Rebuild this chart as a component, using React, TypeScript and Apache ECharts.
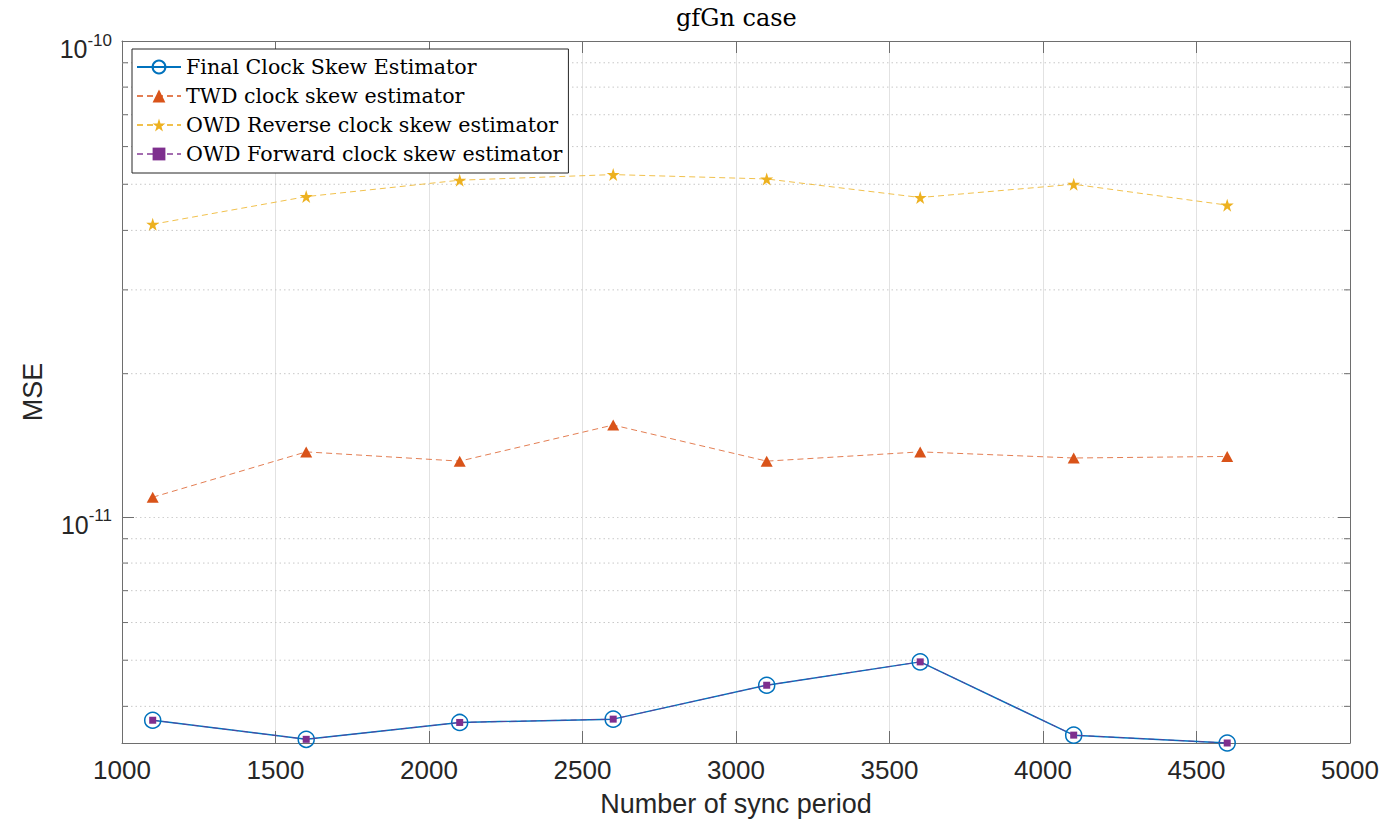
import React, { useEffect, useRef } from "react";
import * as echarts from "echarts";

// ---- data ----
const SYNC_PERIODS = [1100, 1600, 2100, 2600, 3100, 3600, 4100, 4600];
const FINAL_MSE = [3.74e-12, 3.41e-12, 3.7e-12, 3.76e-12, 4.43e-12, 4.96e-12, 3.48e-12, 3.35e-12];
const TWD_MSE = [1.1e-11, 1.37e-11, 1.31e-11, 1.56e-11, 1.31e-11, 1.37e-11, 1.33e-11, 1.34e-11];
const OWD_REV_MSE = [4.12e-11, 4.71e-11, 5.1e-11, 5.24e-11, 5.13e-11, 4.69e-11, 5.0e-11, 4.52e-11];
const OWD_FWD_MSE = [3.74e-12, 3.41e-12, 3.7e-12, 3.76e-12, 4.43e-12, 4.96e-12, 3.48e-12, 3.35e-12];

const SERIES_NAMES = [
  "Final Clock Skew Estimator",
  "TWD clock skew estimator",
  "OWD Reverse clock skew estimator",
  "OWD Forward clock skew estimator",
];
const TITLE = "gfGn case";

const X_MIN = 1000;
const X_MAX = 5000;
const X_STEP = 500;
const Y_MAX = 1e-10;
const MINOR_Y = [
  4e-12, 5e-12, 6e-12, 7e-12, 8e-12, 9e-12,
  2e-11, 3e-11, 4e-11, 5e-11, 6e-11, 7e-11, 8e-11, 9e-11,
];

const STAR =
  "path://M50,0 L61.8,35.3 L100,35.3 L69.1,57.1 L80.9,92.7 L50,70.9 L19.1,92.7 L30.9,57.1 L0,35.3 L38.2,35.3 Z";

const AXIS_COLOR = "#6e6e6e";
const TEXT_COLOR = "#262626";

function pairs(ys: number[]) {
  return SYNC_PERIODS.map((x, i) => [x, ys[i]]);
}

export default function App() {
  const ref = useRef<HTMLDivElement>(null);

  useEffect(() => {
    if (!ref.current) return;
    const chart = echarts.init(ref.current, null, { renderer: "svg" });
    const yMin = Math.min(...FINAL_MSE, ...OWD_FWD_MSE, ...TWD_MSE, ...OWD_REV_MSE);

    const yLabel = (v: number) => {
      const l = Math.log10(v);
      if (Math.abs(l - Math.round(l)) > 1e-6) return "";
      return `{b|10}{s|${Math.round(l)}}`;
    };

    const option: any = {
      animation: false,
      backgroundColor: "#ffffff",
      title: {
        text: TITLE,
        left: 676,
        top: 6,
        padding: 0,
        textStyle: {
          fontFamily: "DejaVu Serif",
          fontWeight: "normal",
          fontSize: 24,
          color: "#000",
        },
      },
      legend: {
        data: SERIES_NAMES,
        orient: "vertical",
        left: 132,
        top: 49,
        itemWidth: 44,
        itemHeight: 16,
        itemGap: 5,
        padding: [6, 6, 7, 4],
        backgroundColor: "#ffffff",
        borderColor: "#262626",
        borderWidth: 1,
        borderRadius: 0,
        textStyle: {
          fontFamily: "DejaVu Serif",
          fontSize: 20.6,
          lineHeight: 24,
          color: "#000",
        },
        z: 10,
      },
      grid: {
        left: 122,
        right: 34,
        top: 41,
        bottom: 84,
        containLabel: false,
        outerBoundsMode: "none",
      },
      xAxis: [
        {
          type: "value",
          min: X_MIN,
          max: X_MAX,
          interval: X_STEP,
          name: "Number of sync period",
          nameLocation: "middle",
          nameGap: 47,
          nameTextStyle: { fontFamily: "Liberation Sans", fontSize: 27, color: TEXT_COLOR },
          axisLine: { show: true, lineStyle: { color: AXIS_COLOR, width: 1 } },
          axisTick: { show: true, inside: true, length: 12, lineStyle: { color: AXIS_COLOR } },
          axisLabel: {
            show: true,
            margin: 14,
            fontFamily: "Liberation Sans",
            fontSize: 26,
            color: TEXT_COLOR,
            showMinLabel: true,
            showMaxLabel: true,
            formatter: (v: number) => String(v),
          },
          splitLine: { show: true, lineStyle: { color: "#e2e2e2", width: 1 } },
        },
        {
          type: "value",
          position: "top",
          min: X_MIN,
          max: X_MAX,
          interval: X_STEP,
          axisLine: { show: true, lineStyle: { color: AXIS_COLOR, width: 1 } },
          axisTick: { show: true, inside: true, length: 12, lineStyle: { color: AXIS_COLOR } },
          axisLabel: { show: false },
          splitLine: { show: false },
        },
      ],
      yAxis: [
        {
          type: "log",
          logBase: 10,
          min: yMin,
          max: Y_MAX,
          name: "MSE",
          nameLocation: "middle",
          nameGap: 76,
          nameTextStyle: { fontFamily: "Liberation Sans", fontSize: 27, color: TEXT_COLOR },
          axisLine: { show: true, lineStyle: { color: AXIS_COLOR, width: 1 } },
          axisTick: { show: true, inside: true, length: 12, lineStyle: { color: AXIS_COLOR } },
          axisLabel: {
            show: true,
            margin: 10,
            formatter: yLabel,
            padding: [11, 0, 0, 0],
            rich: {
              b: {
                fontFamily: "Liberation Sans",
                fontSize: 25,
                lineHeight: 30,
                verticalAlign: "bottom",
                color: TEXT_COLOR,
              },
              s: {
                fontFamily: "Liberation Sans",
                fontSize: 17,
                lineHeight: 14,
                verticalAlign: "top",
                color: TEXT_COLOR,
              },
            },
          },
          splitLine: {
            show: true,
            lineStyle: { color: "#cfcfcf", width: 1, type: [1.5, 3] },
          },
        },
        {
          type: "log",
          logBase: 10,
          position: "right",
          min: yMin,
          max: Y_MAX,
          axisLine: { show: true, lineStyle: { color: AXIS_COLOR, width: 1 } },
          axisTick: { show: true, inside: true, length: 12, lineStyle: { color: AXIS_COLOR } },
          axisLabel: { show: false },
          splitLine: { show: false },
        },
      ],
      series: [
        {
          name: "minor grid",
          type: "custom",
          silent: true,
          z: 1,
          xAxisIndex: 0,
          yAxisIndex: 0,
          data: MINOR_Y.map((v) => [X_MIN, v]),
          renderItem: (params: any, api: any) => {
            const p = api.coord([api.value(0), api.value(1)]);
            const cs = params.coordSys;
            const y = p[1];
            return {
              type: "group",
              children: [
                {
                  type: "line",
                  shape: { x1: cs.x, y1: y, x2: cs.x + cs.width, y2: y },
                  style: { stroke: "#c8c8c8", lineWidth: 1, lineDash: [1.5, 3] },
                },
                {
                  type: "line",
                  shape: { x1: cs.x, y1: y, x2: cs.x + 6, y2: y },
                  style: { stroke: AXIS_COLOR, lineWidth: 1 },
                },
                {
                  type: "line",
                  shape: { x1: cs.x + cs.width - 6, y1: y, x2: cs.x + cs.width, y2: y },
                  style: { stroke: AXIS_COLOR, lineWidth: 1 },
                },
              ],
            };
          },
        },
        {
          name: SERIES_NAMES[0],
          type: "line",
          clip: false,
          z: 3,
          data: pairs(FINAL_MSE),
          symbol: "circle",
          symbolSize: 16,
          lineStyle: { color: "#0072BD", width: 1.5 },
          itemStyle: { color: "rgba(0,0,0,0)", borderColor: "#0072BD", borderWidth: 1.5 },
        },
        {
          name: SERIES_NAMES[1],
          type: "line",
          clip: false,
          z: 4,
          data: pairs(TWD_MSE),
          symbol: "triangle",
          symbolSize: [12, 11],
          lineStyle: { color: "#D95319", width: 1, type: [6, 4], opacity: 0.75 },
          itemStyle: { color: "#D95319" },
        },
        {
          name: SERIES_NAMES[2],
          type: "line",
          clip: false,
          z: 4,
          data: pairs(OWD_REV_MSE),
          symbol: STAR,
          symbolSize: 13,
          lineStyle: { color: "#EDB120", width: 1, type: [6, 4], opacity: 0.8 },
          itemStyle: { color: "#EDB120" },
        },
        {
          name: SERIES_NAMES[3],
          type: "line",
          clip: false,
          z: 5,
          data: pairs(OWD_FWD_MSE),
          symbol: "rect",
          symbolSize: 7,
          lineStyle: { color: "#7E2F8E", width: 1, type: [6, 4], opacity: 0.7 },
          itemStyle: { color: "#7E2F8E" },
        },
      ],
    };

    chart.setOption(option);
    return () => chart.dispose();
  }, []);

  return (
    <div
      ref={ref}
      style={{
        position: "fixed",
        left: 0,
        top: 0,
        width: 1384,
        height: 827,
        background: "#fff",
      }}
    />
  );
}
